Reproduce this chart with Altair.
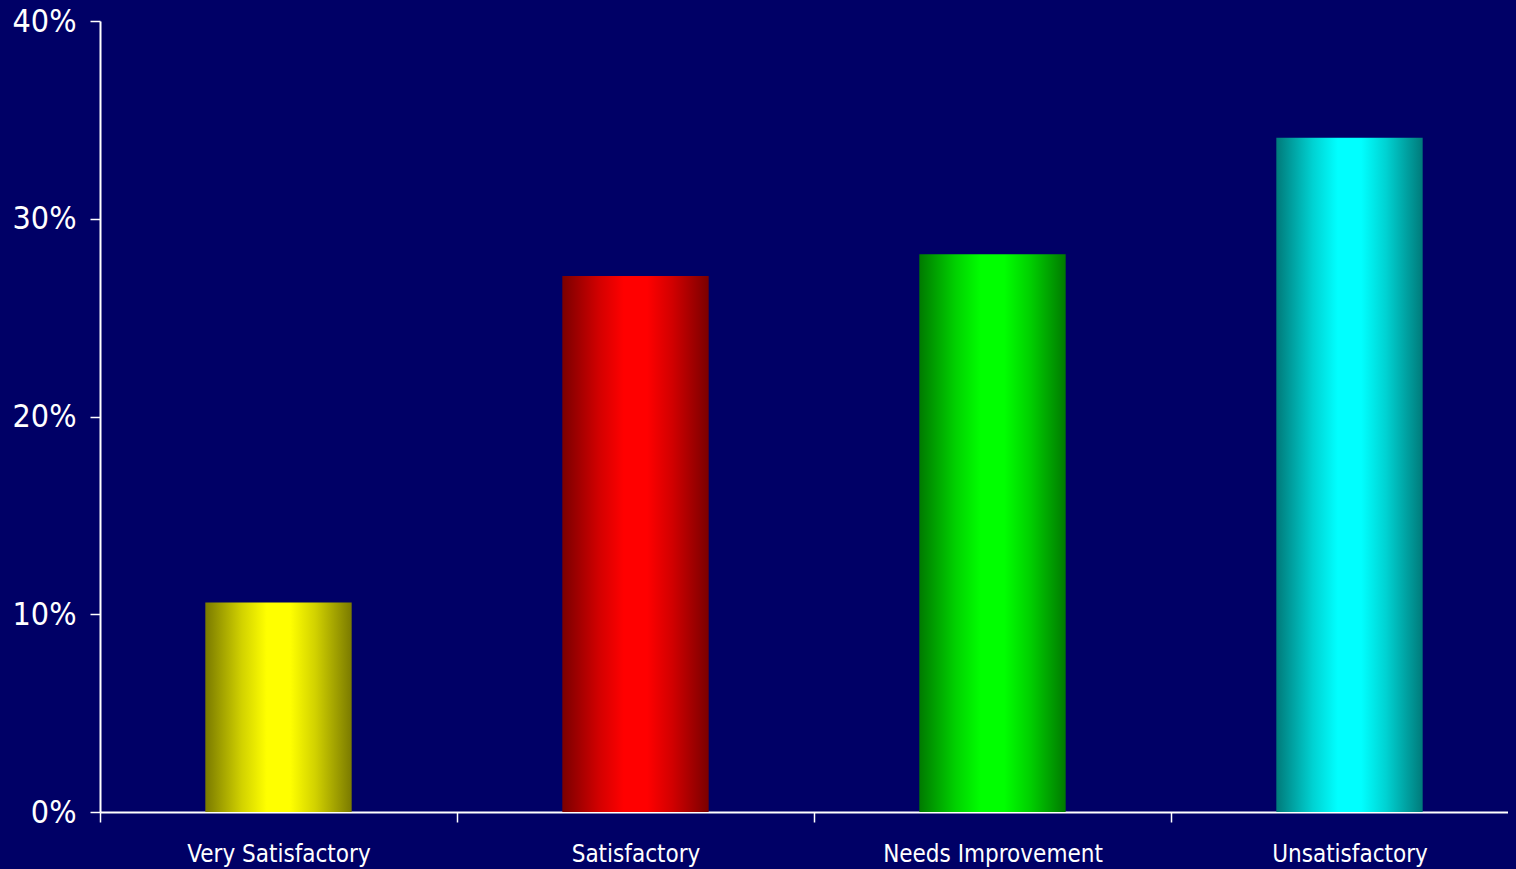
import altair as alt
import pandas as pd
import jinja2

categories = ["Very Satisfactory", "Satisfactory", "Needs Improvement", "Unsatisfactory"]
values = [10.6, 27.1, 28.2, 34.1]
dark_colors = ["#7A7A00", "#7A0000", "#007A00", "#007A7A"]
mid_colors = ["#D2D200", "#D20000", "#00D200", "#00D2D2"]
bright_colors = ["#FFFF00", "#FF0000", "#00FF00", "#00FFFF"]

df = pd.DataFrame({"category": categories, "value": values})

FONT = "'Liberation Sans Narrow', 'Arial Narrow', 'DejaVu Sans Condensed', sans-serif"

x_enc = alt.X(
    "category:N",
    sort=categories,
    title=None,
    scale=alt.Scale(range=[0, 1428], paddingInner=0, paddingOuter=0),
    axis=alt.Axis(
        labelAngle=0,
        tickBand="extent",
        labelFontSize=24,
        labelPadding=20,
        labelLimit=0,
        tickSize=10,
    ),
)
y_enc = alt.Y(
    "value:Q",
    title=None,
    scale=alt.Scale(domain=[0, 40]),
    axis=alt.Axis(
        values=[0, 10, 20, 30, 40],
        labelExpr="datum.value + '%'",
        labelFontSize=32,
        labelPadding=14,
        tickSize=10,
        grid=False,
    ),
)

layers = []
for cat, dk, md, br in zip(categories, dark_colors, mid_colors, bright_colors):
    grad = alt.Gradient(
        gradient="linear",
        x1=0, x2=1, y1=0, y2=0,
        stops=[
            alt.GradientStop(offset=0, color=dk),
            alt.GradientStop(offset=0.25, color=md),
            alt.GradientStop(offset=0.42, color=br),
            alt.GradientStop(offset=0.58, color=br),
            alt.GradientStop(offset=0.75, color=md),
            alt.GradientStop(offset=1, color=dk),
        ],
    )
    layers.append(
        alt.Chart(df)
        .transform_filter(alt.datum.category == cat)
        .mark_bar(color=grad, width=alt.RelativeBandSize(0.41))
        .encode(x=x_enc, y=y_enc)
    )

chart = (
    alt.layer(*layers)
    .properties(
        width=1408,
        height=791,
        background="#000066",
        autosize=alt.AutoSizeParams(type="none"),
        padding={"left": 92, "top": 13, "right": 0, "bottom": 57},
    )
    .configure_view(stroke=None)
    .configure_axis(
        labelColor="white",
        labelFont=FONT,
        domainColor="white",
        domainWidth=2,
        tickColor="white",
        tickWidth=1.5,
    )
)

# page template with the same navy behind the 8px page margin
_base = alt.utils.html.HTML_TEMPLATE
_tpl = jinja2.Template("")
_tpl.render = lambda **kw: _base.render(**kw).replace(
    "<head>", "<head><style>html,body{background:#000066;}</style>", 1
)

chart.save("out.html", embed_options={"renderer": "svg", "actions": False}, template=_tpl)
